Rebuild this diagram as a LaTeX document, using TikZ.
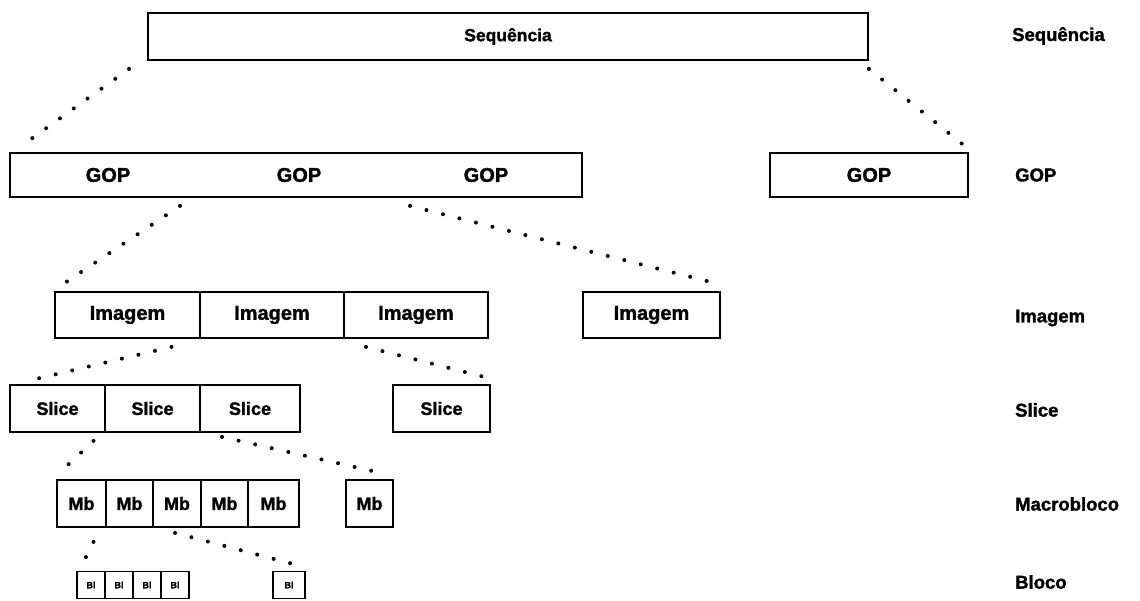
\documentclass[tikz,border=0pt]{standalone}
\usepackage{fontspec}
\setmainfont{Liberation Sans}[BoldFeatures={FakeBold=1.5}]
\begin{document}
\begin{tikzpicture}[x=1pt,y=-1pt,
  cell/.style={draw,line width=1.8pt,inner sep=0pt,minimum height=46pt,
    font=\bfseries\fontsize{20}{20}\selectfont},
  smallcell/.style={cell,minimum height=47pt,font=\bfseries\fontsize{18}{18}\selectfont},
  tinycell/.style={draw,line width=1.6pt,inner sep=0pt,minimum height=27pt,
    font=\bfseries\fontsize{9}{9}\selectfont},
  word/.style={inner sep=0pt,font=\bfseries\fontsize{20}{20}\selectfont},
  levellabel/.style={anchor=west,inner sep=0pt,font=\bfseries\fontsize{18.5}{18.5}\selectfont},
  dots/.style={line width=4pt,line cap=round,dash pattern=on 0pt off 17pt}]
\useasboundingbox (0,0) rectangle (1140,601);

% sequence level
\node[cell,minimum width=720pt,minimum height=47pt,
  font=\bfseries\fontsize{17.5}{17.5}\selectfont] (seq) at (508,36.5) {Sequência};

% GOP level
\node[cell,minimum width=572pt,minimum height=44pt] (gopA) at (296,175) {};
\node[word] (gop1) at (108,175) {GOP};
\node[word] (gop2) at (299,175) {GOP};
\node[word] (gop3) at (486,175) {GOP};
\node[cell,minimum width=198pt,minimum height=44pt] (gopB) at (869,175) {GOP};

% picture level
\node[cell,minimum width=145pt] (im1) at (127.5,315) {Imagem};
\node[cell,minimum width=144pt] (im2) at (272,315) {Imagem};
\node[cell,minimum width=144pt] (im3) at (416,315) {Imagem};
\node[cell,minimum width=137pt] (im4) at (651.5,315) {Imagem};

% slice level
\node[smallcell,minimum width=95pt] (sl1) at (57.5,408.5) {Slice};
\node[smallcell,minimum width=95pt] (sl2) at (152.5,408.5) {Slice};
\node[smallcell,minimum width=100pt] (sl3) at (250,408.5) {Slice};
\node[smallcell,minimum width=97pt] (sl4) at (441.5,408.5) {Slice};

% macroblock level
\node[smallcell,minimum width=49pt] (mb1) at (81.5,503.5) {Mb};
\node[smallcell,minimum width=47pt] (mb2) at (129.5,503.5) {Mb};
\node[smallcell,minimum width=48pt] (mb3) at (177,503.5) {Mb};
\node[smallcell,minimum width=47pt] (mb4) at (224.5,503.5) {Mb};
\node[smallcell,minimum width=51pt] (mb5) at (273.5,503.5) {Mb};
\node[smallcell,minimum width=47pt] (mb6) at (369.5,503.5) {Mb};

% block level
\node[tinycell,minimum width=28pt] (bl1) at (91,585) {Bl};
\node[tinycell,minimum width=28pt] (bl2) at (119,585) {Bl};
\node[tinycell,minimum width=28pt] (bl3) at (147,585) {Bl};
\node[tinycell,minimum width=28pt] (bl4) at (175,585) {Bl};
\node[tinycell,minimum width=32pt] (bl5) at (289,585) {Bl};

% level names
\node[levellabel] (lseq) at (1012,36) {Sequência};
\node[levellabel] (lgop) at (1015,175) {GOP};
\node[levellabel] (lim) at (1015,318) {Imagem};
\node[levellabel] (lsl) at (1015,410) {Slice};
\node[levellabel] (lmb) at (1015,504) {Macrobloco};
\node[levellabel] (lbl) at (1015,582) {Bloco};

% dotted expansion lines
\draw[dots] ([xshift=-18pt,yshift=-8pt]seq.south west) -- ([xshift=12pt,yshift=6pt]gopA.north west);
\draw[dots] ([xshift=0pt,yshift=-8pt]seq.south east) -- ([xshift=-4pt,yshift=6pt]gopB.north east);
\draw[dots] ([xshift=-116pt,yshift=-8pt]gopA.south) -- ([xshift=6pt,yshift=5pt]im1.north west);
\draw[dots] ([xshift=114pt,yshift=-8pt]gopA.south) -- ([xshift=-2pt,yshift=7pt]im4.north east);
\draw[dots] ([xshift=44pt,yshift=-8pt]im1.south) -- ([xshift=18pt,yshift=3pt]sl1.north west);
\draw[dots] ([xshift=-50pt,yshift=-8pt]im3.south) -- ([xshift=-6pt,yshift=7pt]sl4.north east);
\draw[dots] ([xshift=36pt,yshift=-8pt]sl1.south) -- ([xshift=2pt,yshift=5pt]mb1.north west);
\draw[dots] ([xshift=-28pt,yshift=-4pt]sl3.south) -- ([xshift=-8pt,yshift=5pt]mb6.north east);
\draw[dots] ([xshift=12pt,yshift=-14pt]mb1.south) -- ([xshift=6pt,yshift=6pt]bl1.north west);
\draw[dots] ([xshift=-2pt,yshift=-5pt]mb3.south) -- ([xshift=-10pt,yshift=6pt]bl5.north east);
\end{tikzpicture}
\end{document}
